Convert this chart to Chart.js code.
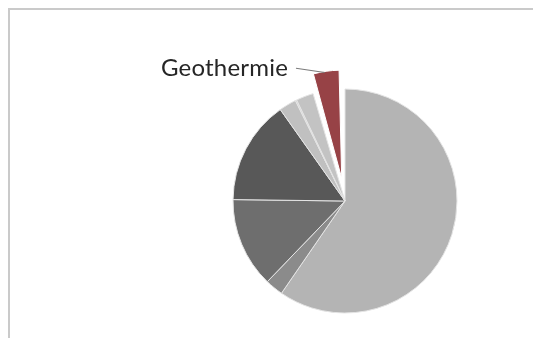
<!DOCTYPE html>
<html>
<head>
<meta charset="utf-8">
<script src="https://cdn.jsdelivr.net/npm/chart.js@4"></script>
<style>
  html, body { margin: 0; padding: 0; background: #fff; }
  #wrap { position: relative; width: 533px; height: 338px; overflow: hidden; }
  #frame { position: absolute; left: 8px; top: 8px; right: -4px; bottom: -4px;
           border-top: 2px solid #cacaca; border-left: 2px solid #cacaca; }
  #chart { position: absolute; left: 0; top: 0; }
  #geoLabel { position: absolute; left: 161px; top: 52px; font: 24px Lato, sans-serif;
              color: #262626; letter-spacing: 0.2px; white-space: nowrap; }
</style>
</head>
<body>
<div id="wrap">
  <div id="frame"></div>
  <canvas id="chart" width="533" height="338"></canvas>
  <div id="geoLabel">Geothermie</div>
</div>
<script>
(function () {
  'use strict';
  // slices clockwise from 12 o'clock, share in percent
  const labels = ['Segment 1', 'Segment 2', 'Segment 3', 'Segment 4', 'Segment 5', 'Segment 6', 'Segment 7', 'Geothermie'];
  const shares = [59.6, 2.6, 13.0, 15.0, 2.5, 0.2, 2.5, 4.6];
  const colors = ['#b4b4b4', '#8b8b8b', '#6e6e6e', '#585858', '#c0c0c0', '#d0d0d0', '#c3c3c3', '#974246'];
  const GEO = labels.indexOf('Geothermie');

  const offsets = shares.map((_, i) => (i === GEO ? 92 : 0));

  // keep the pulled-out slice a bit shorter than the others, as in the print
  const geoRadius = {
    id: 'geoRadius',
    afterDatasetUpdate(chart) {
      const arc = chart.getDatasetMeta(0).data[GEO];
      if (!arc) return;
      const off = (arc.options.offset || 0) / 4;
      const circ = arc.endAngle - arc.startAngle;
      const fix = 1 - Math.sin(Math.min(Math.PI, circ));
      arc.outerRadius = arc.outerRadius * 0.965 - off * fix;
    },
  };

  // leader line from the label to the pulled-out slice
  const leader = {
    id: 'leader',
    afterDraw(chart) {
      const arc = chart.getDatasetMeta(0).data[GEO];
      const lab = document.getElementById('geoLabel');
      const ctx = chart.ctx;
      const mid = (arc.startAngle + arc.endAngle) / 2;
      const off = (arc.options.offset || 0) / 4;
      const ox = arc.x + Math.cos(mid) * off;
      const oy = arc.y + Math.sin(mid) * off;
      const a = arc.startAngle + (arc.endAngle - arc.startAngle) * 0.45;
      const circ = arc.endAngle - arc.startAngle;
      const r = arc.outerRadius + off * (1 - Math.sin(Math.min(Math.PI, circ))) - 1;
      const ex = ox + Math.cos(a) * r;
      const ey = oy + Math.sin(a) * r;
      const sx = lab.offsetLeft + lab.offsetWidth + 8;
      const sy = lab.offsetTop + lab.offsetHeight * 0.56;
      ctx.save();
      ctx.strokeStyle = '#7a7a7a';
      ctx.lineWidth = 1.2;
      ctx.beginPath();
      ctx.moveTo(sx, sy);
      ctx.lineTo(ex, ey);
      ctx.stroke();
      ctx.restore();
    },
  };

  new Chart(document.getElementById('chart').getContext('2d'), {
    type: 'pie',
    data: {
      labels,
      datasets: [{
        data: shares,
        backgroundColor: colors,
        borderColor: colors.map((c, i) => (i === GEO ? '#ffffff' : '#e4e4e4')),
        borderWidth: 1,
        offset: offsets,
        hoverOffset: 0,
      }],
    },
    options: {
      responsive: false,
      devicePixelRatio: 1,
      animation: false,
      radius: 112,
      layout: { padding: { left: 157, top: 64, right: 0, bottom: 0 } },
      events: [],
      plugins: { legend: { display: false }, tooltip: { enabled: false } },
    },
    plugins: [geoRadius, leader],
  });
})();
</script>
</body>
</html>
